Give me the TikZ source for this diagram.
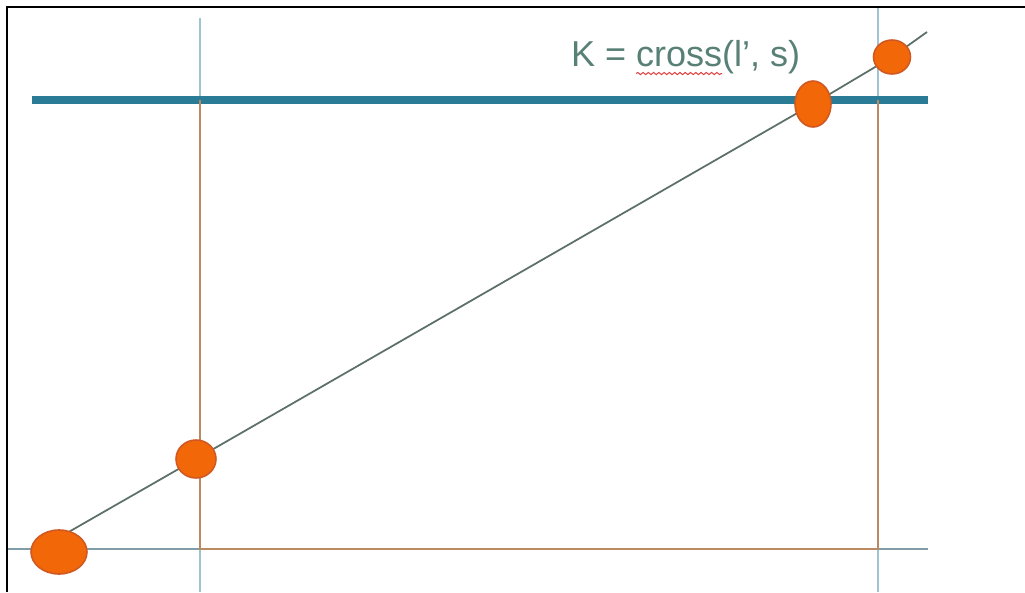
\documentclass[tikz,border=0pt]{standalone}
\usepackage{fontspec}
\setmainfont{Liberation Sans}
\usetikzlibrary{shapes.geometric,decorations.pathmorphing,backgrounds}

\definecolor{gridblue}{RGB}{158,196,210}
\definecolor{rulerteal}{RGB}{42,124,150}
\definecolor{boxtan}{RGB}{188,138,96}
\definecolor{dotorange}{RGB}{242,104,8}
\definecolor{dotedge}{RGB}{208,88,34}
\definecolor{labelgrey}{RGB}{88,128,118}
\definecolor{spellred}{RGB}{222,70,70}
\definecolor{linegrey}{RGB}{92,112,104}

\tikzstyle{dot} = [
	ellipse,
	draw = dotedge,
	fill = dotorange,
	line width = 0.9pt,
	inner sep = 0pt
	]

\tikzstyle{gridline} = [
	draw = gridblue,
	line width = 1.1pt
	]

\begin{document}
\begin{tikzpicture}[
	x = 0.02cm,
	y = -0.02cm,
	every node/.style = {
	inner sep = 0pt,
	outer sep = 0pt
	},
	word/.style = {
	text = labelgrey,
	font = \fontsize{20.5}{24}\selectfont,
	anchor = base west
	}
	]

			   \useasboundingbox (0,0) rectangle (1025,592);

			   % points on the line
			   \node[dot, minimum width=1.12cm, minimum height=0.88cm] (p0) at (59,552) {};
			   \node[dot, minimum width=0.8cm, minimum height=0.76cm] (p1) at (196,459) {};
			   \node[dot, minimum width=0.72cm, minimum height=0.92cm] (p2) at (813,104) {};
			   \node[dot, minimum width=0.74cm, minimum height=0.68cm] (p3) at (892,57) {};

			   \coordinate (start) at (46,545);
			   \coordinate (tip) at (927,32);

			   % label K = cross(l', s)
			   \node[word] (keq) at (571,66.5) {K =\kern0.28em};
			   \node[word] (kcross) at (keq.base east) {cross};
			   \node[word] (kargs) at (kcross.base east) {(l', s)};
			   \draw[spellred, line width=0.6pt,
			         decorate, decoration={snake, amplitude=0.6pt, segment length=3pt}]
			         ([yshift=-4pt]kcross.base west) -- ([yshift=-4pt]kcross.base east);

			   \begin{pgfonlayer}{background}
			   \fill[white] (0,0) rectangle (1025,592);

			   % grid lines
			   \draw[gridline] (200,18) -- (200,592);
			   \draw[gridline] (878,8) -- (878,592);
			   \draw[gridline, draw=gridblue!80!black] (8,549) -- (928,549);
			   \draw[rulerteal, line width=4.6pt] (32,100) -- (928,100);

			   % box under the ruler
			   \draw[boxtan, line width=1.4pt] (200,100) -- (200,549) -- (878,549) -- (878,100);

			   % the line through the points
			   \draw[linegrey, line width=1pt] (start) -- (p1.center) -- (p2.center) -- (p3.center) -- (tip);

			   % frame
			   \draw[black, line width=1.7pt] (7,592) -- (7,7) -- (1025,7);
			   \end{pgfonlayer}
		   \end{tikzpicture}
\end{document}
